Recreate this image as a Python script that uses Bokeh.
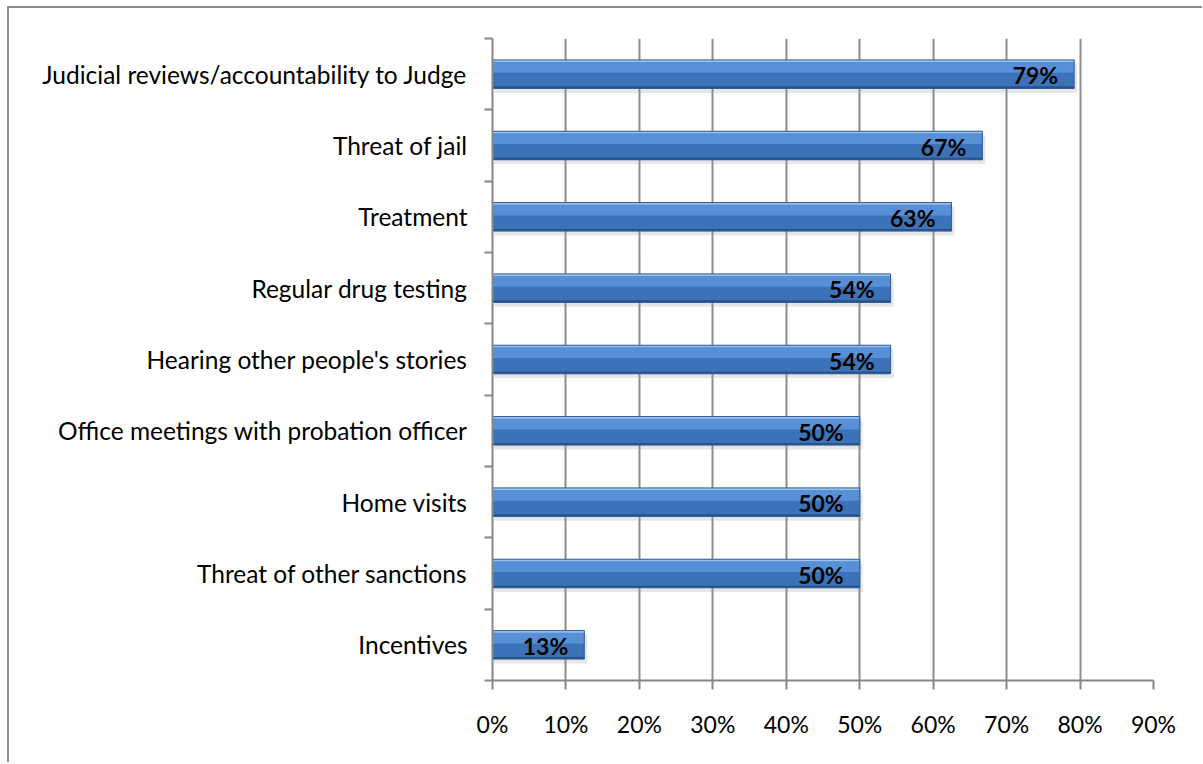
from bokeh.plotting import figure
from bokeh.models import Range1d, FixedTicker, ColumnDataSource
from bokeh.core.properties import value
from bokeh.embed import file_html
from bokeh.resources import INLINE

categories = [
    "Judicial reviews/accountability to Judge",
    "Threat of jail",
    "Treatment",
    "Regular drug testing",
    "Hearing other people's stories",
    "Office meetings with probation officer",
    "Home visits",
    "Threat of other sanctions",
    "Incentives",
]
values = [79.2, 66.7, 62.5, 54.2, 54.2, 50.0, 50.0, 50.0, 12.5]
value_labels = ["79%", "67%", "63%", "54%", "54%", "50%", "50%", "50%", "13%"]
x_ticks = [0, 10, 20, 30, 40, 50, 60, 70, 80, 90]
x_tick_labels = ["0%", "10%", "20%", "30%", "40%", "50%", "60%", "70%", "80%", "90%"]

FONT = "Lato"
n = len(categories)
centers = [n - i - 0.5 for i in range(n)]
boundaries = list(range(n + 1))

p = figure(width=1195, height=756, output_backend="svg", toolbar_location=None,
           x_range=Range1d(0, 90), y_range=Range1d(0, n),
           min_border_left=483, min_border_right=51, min_border_top=30, min_border_bottom=84,
           margin=(6, 0, 0, 7))
p.styles = {"border-top": "2px solid #8c8c8c", "border-left": "2px solid #8c8c8c"}
p.outline_line_color = None
p.background_fill_color = "white"
p.border_fill_color = "white"

# x axis
xa = p.xaxis[0]
xa.ticker = FixedTicker(ticks=x_ticks, minor_ticks=[])
xa.major_label_overrides = {t: l for t, l in zip(x_ticks, x_tick_labels)}
xa.major_tick_out = 9
xa.major_tick_in = 0
xa.axis_line_color = "#868686"
xa.axis_line_width = 2
xa.major_tick_line_color = "#868686"
xa.major_tick_line_width = 2
xa.major_label_text_font = FONT
xa.major_label_text_font_size = "23px"
xa.major_label_text_color = "black"
xa.major_label_standoff = 20

# y axis
ya = p.yaxis[0]
ya.ticker = FixedTicker(ticks=centers, minor_ticks=boundaries)
ya.major_label_overrides = {c: cat for c, cat in zip(centers, categories)}
ya.major_tick_out = 0
ya.major_tick_in = 0
ya.minor_tick_out = 8
ya.minor_tick_in = 0
ya.minor_tick_line_color = "#868686"
ya.minor_tick_line_width = 2
ya.axis_line_color = "#868686"
ya.axis_line_width = 2
ya.major_label_text_font = FONT
ya.major_label_text_font_size = "24.5px"
ya.major_label_text_color = "black"
ya.major_label_standoff = 17

p.xgrid.ticker = FixedTicker(ticks=x_ticks)
p.xgrid.grid_line_color = "#8c8c8c"
p.xgrid.grid_line_width = 2
p.ygrid.grid_line_color = None

src = ColumnDataSource(dict(y=centers, v=values, lab=value_labels,
                            ysh=[c - 0.06 for c in centers],
                            vsh=[v + 0.4 for v in values],
                            yup=[c + 0.095 for c in centers],
                            ytop=[c + 0.185 for c in centers],
                            ybot=[c - 0.185 for c in centers]))

H = 0.40
# shadow
p.hbar(y="ysh", left=0.2, right="vsh", height=H, source=src, fill_color="#9a9a9a",
       fill_alpha=0.25, line_color=None)
# base bar
p.hbar(y="y", left=0, right="v", height=H, source=src, fill_color="#3b72b8", line_color=None)
# upper lighter band
p.hbar(y="yup", left=0, right="v", height=0.15, source=src, fill_color="#5790d6", line_color=None)
# top highlight
p.hbar(y="ytop", left=0, right="v", height=0.03, source=src, fill_color="#9cc2ee", line_color=None)
# bottom dark edge
p.hbar(y="ybot", left=0, right="v", height=0.03, source=src, fill_color="#2a5288", line_color=None)
# outline
p.hbar(y="y", left=0, right="v", height=H, source=src, fill_color=None,
       line_color="#2f5d98", line_width=1)

p.text(x="v", y="y", text="lab", source=src, text_align="right", text_baseline="middle",
       x_offset=-16, y_offset=1, text_font=value(FONT), text_font_style="bold",
       text_font_size="23px", text_color="black")

open("out.html", "w").write(file_html(p, INLINE))
